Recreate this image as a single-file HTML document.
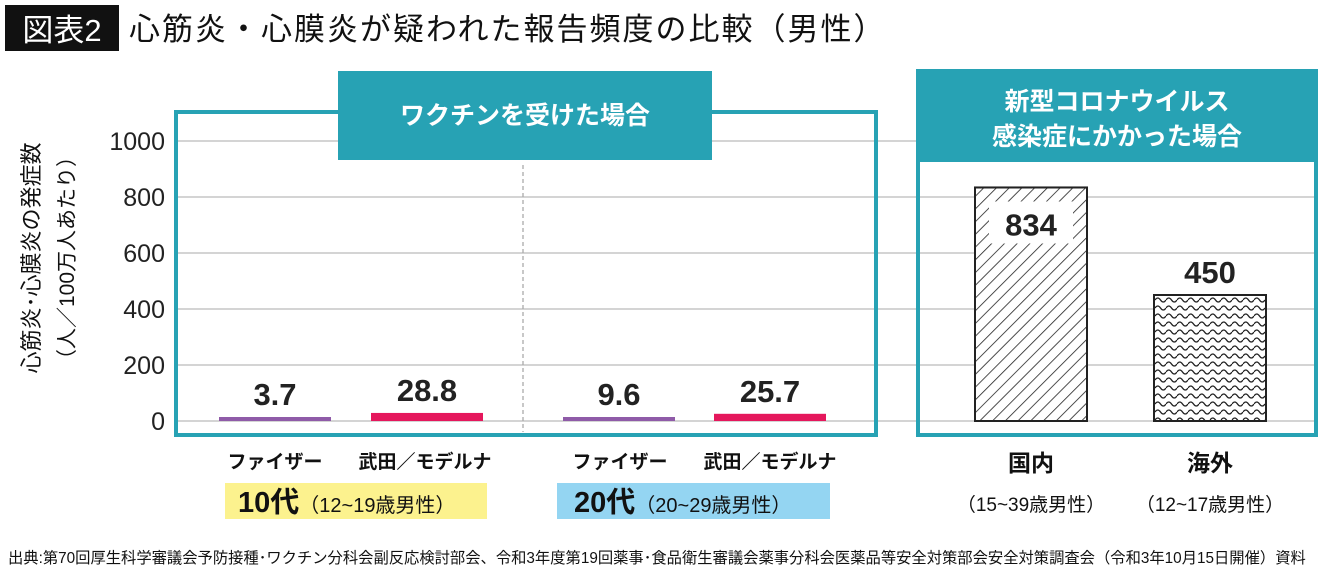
<!DOCTYPE html>
<html><head><meta charset="utf-8"><style>
body{margin:0;background:#fff;width:1340px;height:577px;overflow:hidden}
svg text{font-family:"Liberation Sans","Noto Sans CJK JP",sans-serif}
</style></head><body>
<svg width="1340" height="577" viewBox="0 0 1340 577" xmlns="http://www.w3.org/2000/svg">
<defs>
<pattern id="hatch" patternUnits="userSpaceOnUse" width="9" height="9" patternTransform="rotate(45)">
<line x1="0" y1="0" x2="0" y2="9" stroke="#222" stroke-width="1.6"/></pattern>
<pattern id="wave" patternUnits="userSpaceOnUse" width="11" height="8">
<path d="M0 4 Q2.75 0 5.5 4 T11 4" fill="none" stroke="#222" stroke-width="1.3"/></pattern>
</defs>
<rect x="5" y="5" width="114" height="46" fill="#111"/>
<text x="62" y="41" text-anchor="middle" fill="#fff" font-size="31">図表2</text>
<text x="129" y="40" font-size="31" letter-spacing="2" fill="#111">心筋炎・心膜炎が疑われた報告頻度の比較（男性）</text>
<g id="grid"></g>
<g id="yt"></g>
<text transform="translate(39,258) rotate(-90)" text-anchor="middle" font-size="22" fill="#111">心筋炎･心膜炎の発症数</text>
<text transform="translate(74,258) rotate(-90)" text-anchor="middle" font-size="21" fill="#111">（人／100万人あたり）</text>
<rect x="176" y="112" width="700" height="323" fill="none" stroke="#27a2b4" stroke-width="4"/>
<line x1="523" y1="165" x2="523" y2="432" stroke="#aaa" stroke-width="1.3" stroke-dasharray="4,3"/>
<rect x="338" y="71" width="374" height="89" fill="#27a2b4"/>
<text x="525" y="124" text-anchor="middle" fill="#fff" font-size="25" font-weight="bold">ワクチンを受けた場合</text>
<rect x="918" y="71" width="398" height="364" fill="none" stroke="#27a2b4" stroke-width="4"/>
<rect x="918" y="71" width="398" height="91" fill="#27a2b4"/>
<text x="1117" y="110" text-anchor="middle" fill="#fff" font-size="25" font-weight="bold">新型コロナウイルス</text>
<text x="1117" y="145" text-anchor="middle" fill="#fff" font-size="25" font-weight="bold">感染症にかかった場合</text>
<g id="bars"></g>
<text x="275" y="468" text-anchor="middle" font-size="19" font-weight="bold" fill="#111">ファイザー</text>
<text x="425" y="468" text-anchor="middle" font-size="19" font-weight="bold" fill="#111">武田／モデルナ</text>
<text x="620" y="468" text-anchor="middle" font-size="19" font-weight="bold" fill="#111">ファイザー</text>
<text x="770" y="468" text-anchor="middle" font-size="19" font-weight="bold" fill="#111">武田／モデルナ</text>
<rect x="225" y="483" width="262" height="36" fill="#fcf28e"/>
<text x="238" y="512" font-size="20" fill="#111"><tspan font-size="29" font-weight="bold">10代</tspan>（12~19歳男性）</text>
<rect x="557" y="483" width="273" height="36" fill="#94d5f2"/>
<text x="574" y="512" font-size="20" fill="#111"><tspan font-size="29" font-weight="bold">20代</tspan>（20~29歳男性）</text>
<text x="1031" y="471" text-anchor="middle" font-size="23" font-weight="bold" fill="#111">国内</text>
<text x="1210" y="471" text-anchor="middle" font-size="23" font-weight="bold" fill="#111">海外</text>
<text x="1031" y="511" text-anchor="middle" font-size="19" fill="#111">（15~39歳男性）</text>
<text x="1210" y="511" text-anchor="middle" font-size="19" fill="#111">（12~17歳男性）</text>
<text x="8" y="563" font-size="15.3" fill="#111">出典:第70回厚生科学審議会予防接種･ワクチン分科会副反応検討部会、令和3年度第19回薬事･食品衛生審議会薬事分科会医薬品等安全対策部会安全対策調査会（令和3年10月15日開催）資料</text>
</svg>
<script>
const categories=["ファイザー10代","武田／モデルナ10代","ファイザー20代","武田／モデルナ20代","国内","海外"];
const values=[3.7,28.8,9.6,25.7,834,450];
const valueLabels=["3.7","28.8","9.6","25.7","834","450"];
const yTicks=[0,200,400,600,800,1000];
const NS="http://www.w3.org/2000/svg";
const y0=421,y1=141;
function yScale(v){return y0-(v/1000)*(y0-y1);}
const barX=[219,371,563,714,975,1154];
const barW=112;
const fills=["#8f5ba8","#e5175c","#8f5ba8","#e5175c","url(#hatch)","url(#wave)"];
function mk(t,a){const e=document.createElementNS(NS,t);for(const k in a)e.setAttribute(k,a[k]);return e;}
const grid=document.getElementById('grid'),yt=document.getElementById('yt'),bars=document.getElementById('bars');
yTicks.forEach(t=>{
  const l=mk('line',{x1:176,x2:1316,y1:yScale(t),y2:yScale(t),stroke:'#bbb','stroke-width':1.3});
  
  
  grid.appendChild(l);
  const tx=mk('text',{x:165,y:yScale(t)+9,'text-anchor':'end','font-size':25,fill:'#222'});
  tx.textContent=t;
  
  
  yt.appendChild(tx);
});
values.forEach((v,i)=>{
  const big=i>=4;
  let top=yScale(v), h=Math.max(y0-top,4);
  if(!big){top=y0-h;}
  const r=mk('rect',{x:barX[i],y:top,width:barW,height:h,fill:'#fff'});
  if(big){r.setAttribute('stroke','#222');r.setAttribute('stroke-width',2);}
  
  
  bars.appendChild(r);
  const r2=mk('rect',{x:barX[i],y:top,width:barW,height:h,fill:fills[i]});
  if(big){r2.setAttribute('stroke','#222');r2.setAttribute('stroke-width',2);}
  
  
  bars.appendChild(r2);
  let ly;
  if(i===4){
    const bg=mk('rect',{x:barX[i]+14,y:top+14,width:barW-28,height:42,fill:'#fff'});
    
    
    bars.appendChild(bg);
    ly=top+48;
  } else ly=top-12;
  const t=mk('text',{x:barX[i]+barW/2,y:ly,'text-anchor':'middle','font-size':31,'font-weight':'bold',fill:'#222'});
  t.textContent=valueLabels[i];
  
  
  bars.appendChild(t);
});
</script>
</body></html>
